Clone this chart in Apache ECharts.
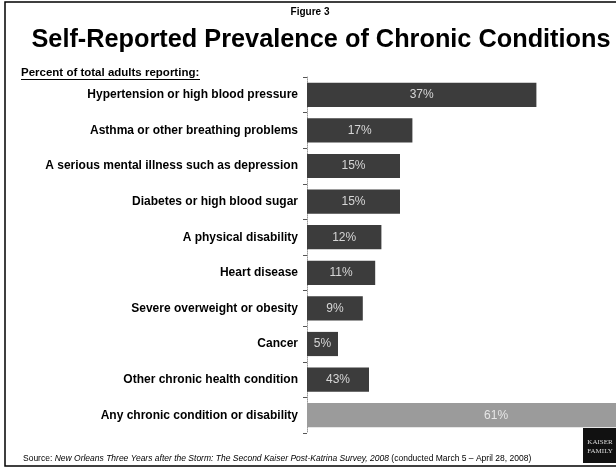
<!DOCTYPE html>
<html>
<head>
<meta charset="utf-8">
<script src="https://cdn.jsdelivr.net/npm/echarts@6/dist/echarts.min.js"></script>
<style>
html,body{margin:0;padding:0;background:#fff;overflow:hidden;width:616px;height:469px;}
#main{width:760px;height:469px;}
</style>
</head>
<body>
<div id="main"></div>
<script>
const categories = [
  'Hypertension or high blood pressure',
  'Asthma or other breathing problems',
  'A serious mental illness such as depression',
  'Diabetes or high blood sugar',
  'A physical disability',
  'Heart disease',
  'Severe overweight or obesity',
  'Cancer',
  'Other chronic health condition',
  'Any chronic condition or disability'
];
const values = [37, 17, 15, 15, 12, 11, 9, 5, 10, 61];
const valueLabels = ['37%', '17%', '15%', '15%', '12%', '11%', '9%', '5%', '43%', '61%'];

const FONT = '"Liberation Sans", Arial, sans-serif';
const chart = echarts.init(document.getElementById('main'), null, {renderer: 'canvas'});

const barData = values.map((v, i) => ({
  value: v,
  itemStyle: { color: i === values.length - 1 ? '#9b9b9b' : '#3c3c3c' },
  label: { color: i === values.length - 1 ? '#e6e6e6' : '#d6d6d6' }
}));

chart.setOption({
  animation: false,
  backgroundColor: '#fff',
  grid: { left: 307, top: 77, width: 434, height: 356, containLabel: false },
  xAxis: {
    type: 'value', min: 0, max: 70,
    show: false
  },
  yAxis: {
    type: 'category',
    inverse: true,
    data: categories,
    axisLine: { show: true, lineStyle: { color: '#9a9a9a', width: 1, type: 'dotted' } },
    axisTick: { show: true, length: 4, inside: false, lineStyle: { color: '#555' } },
    axisLabel: { color: '#000', fontFamily: FONT, fontWeight: 'bold', fontSize: 12, margin: 9 }
  },
  series: [{
    type: 'bar',
    data: barData,
    barCategoryGap: '32%',
    label: {
      show: true, position: 'inside',
      fontFamily: FONT, fontSize: 12,
      formatter: p => valueLabels[p.dataIndex]
    }
  }],
  graphic: [
    { type: 'rect', shape: { x: 5, y: 2, width: 700, height: 464 }, style: { fill: 'none', stroke: '#000', lineWidth: 1.5 }, z: 100 },
    { type: 'text', x: 310, y: 7, style: { text: 'Figure 3', font: 'bold 10px ' + FONT, fill: '#000', textAlign: 'center' } },
    { type: 'text', x: 321, y: 28, style: { text: 'Self-Reported Prevalence of Chronic Conditions', font: 'bold 25.3px ' + FONT, fill: '#000', textAlign: 'center' } },
    { type: 'text', x: 21, y: 67, style: { text: 'Percent of total adults reporting:', font: 'bold 11.5px ' + FONT, fill: '#000' } },
    { type: 'line', shape: { x1: 21, y1: 79.5, x2: 200, y2: 79.5 }, style: { stroke: '#000', lineWidth: 1 } },
    { type: 'text', x: 23, y: 454, style: {
        text: '{n|Source: }{i|New Orleans Three Years after the Storm: The Second Kaiser Post-Katrina Survey, 2008}{n| (conducted March 5 – April 28, 2008)}',
        rich: {
          n: { font: '8.5px ' + FONT, fill: '#000' },
          i: { font: 'italic 8.5px ' + FONT, fill: '#000' }
        } } },
    { type: 'rect', shape: { x: 583, y: 428, width: 40, height: 35 }, style: { fill: '#111' } },
    { type: 'text', x: 600, y: 438, style: { text: 'KAISER\nFAMILY', font: '7px "Liberation Serif", serif', fill: '#ddd', textAlign: 'center', lineHeight: 9 } }
  ]
});
</script>
</body>
</html>
